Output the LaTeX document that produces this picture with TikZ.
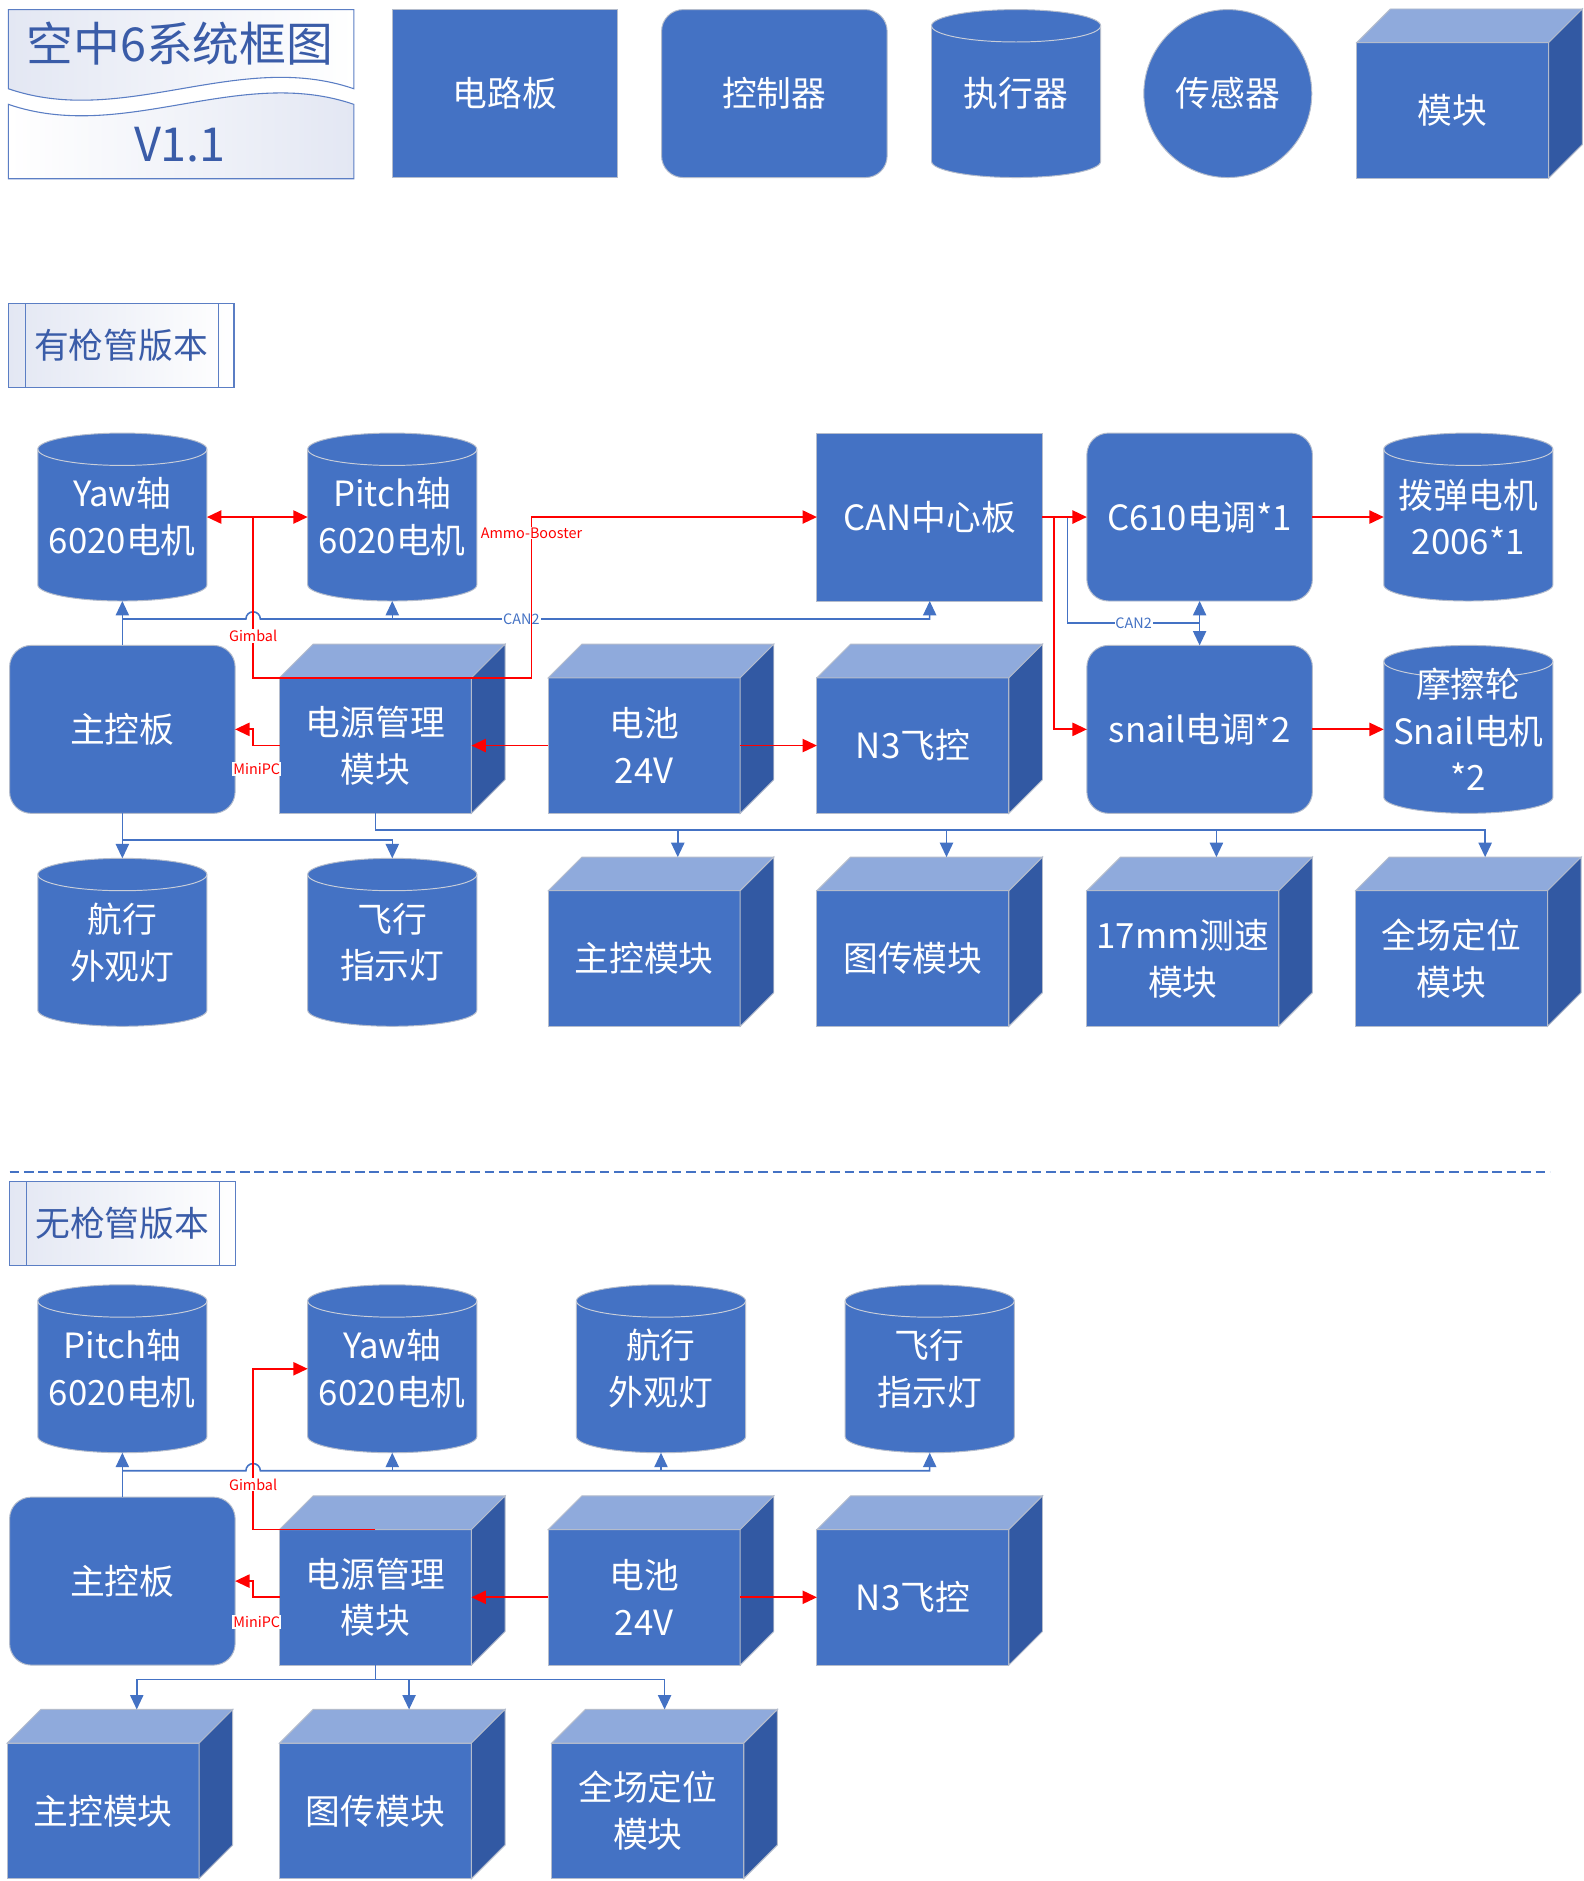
\documentclass[tikz,border=0pt]{standalone}
\usepackage{fontspec}
\setmainfont{Noto Sans CJK SC}
\usetikzlibrary{arrows.meta,backgrounds,calc}

\definecolor{mainblue}{HTML}{4472C4}
\definecolor{topblue}{HTML}{8FAADC}
\definecolor{sideblue}{HTML}{3259A3}
\definecolor{rimgray}{HTML}{B4BCCC}
\definecolor{capgray}{HTML}{C9CED9}
\definecolor{frameblue}{HTML}{5B7EC4}
\definecolor{titleblue}{HTML}{3A5CA8}
\definecolor{lav}{HTML}{E3E7F3}

\begin{document}
\begin{tikzpicture}[x=1pt,y=1pt]

% 样式
\tikzset{
  board/.style={rectangle, fill=mainblue, draw=rimgray, line width=0.8pt,
    minimum width=188pt, minimum height=140pt, inner sep=0pt, outer sep=0pt,
    text=white, align=center, font=\fontsize{29}{39}\selectfont},
  ctrl/.style={board, rounded corners=18pt},
  sensor/.style={board, circle, minimum size=140pt},
  cubefront/.style={board, minimum width=160pt, minimum height=113pt},
  cubetop/.style={fill=topblue, draw=rimgray, line width=0.8pt},
  cubeside/.style={fill=sideblue, draw=rimgray, line width=0.8pt},
  tank/.style={rectangle, minimum width=141pt, minimum height=140pt,
    inner sep=0pt, outer sep=0pt, text=white, align=center,
    font=\fontsize{29}{39}\selectfont},
  tankbody/.style={fill=mainblue, draw=rimgray, line width=0.8pt},
  tankcap/.style={draw=capgray, line width=0.8pt},
  secbox/.style={rectangle, draw=frameblue, line width=1pt, left color=lav,
    right color=white, minimum width=188pt, minimum height=70pt,
    inner sep=0pt, outer sep=0pt, text=titleblue,
    font=\fontsize{29}{39}\selectfont},
  secline/.style={draw=frameblue, line width=1pt},
  titlefill/.style={draw=frameblue, line width=0.9pt},
  titletxt/.style={text=titleblue, inner sep=0pt, font=\fontsize{39}{44}\selectfont},
  tag/.style={fill=white, inner sep=0.8pt, font=\fontsize{12}{12}\selectfont},
  redl/.style={red, line width=1.5pt},
  bluel/.style={mainblue, line width=1.3pt},
  redtip/.style={redl, -{Triangle[length=12pt,width=11pt]}},
  redboth/.style={redl, {Triangle[length=12pt,width=11pt]}-{Triangle[length=12pt,width=11pt]}},
  bluetip/.style={bluel, -{Triangle[length=12pt,width=11pt]}}
}

% 圆柱(执行器)
\def\drumcyl#1#2#3{%
  \node[tank] (#1) at (#2) {#3};
  \begin{scope}[on background layer]
    \path[tankbody] ([yshift=-13.5pt]#1.north west) -- ([yshift=13.5pt]#1.south west)
      arc[start angle=180, end angle=360, x radius=70.5pt, y radius=13.5pt]
      -- ([yshift=-13.5pt]#1.north east)
      arc[start angle=0, end angle=180, x radius=70.5pt, y radius=13.5pt] -- cycle;
    \draw[tankcap] ([yshift=-13.5pt]#1.north west)
      arc[start angle=180, end angle=360, x radius=70.5pt, y radius=13.5pt];
  \end{scope}}

% 立方体(模块)
\def\modcube#1#2#3{%
  \node[cubefront] (#1) at (#2) {#3};
  \path[cubetop] (#1.north west) -- ++(28,28) -- ([shift={(28,28)}]#1.north east)
    -- (#1.north east) -- cycle;
  \path[cubeside] (#1.north east) -- ++(28,28) -- ([shift={(28,28)}]#1.south east)
    -- (#1.south east) -- cycle;}

\begin{scope}[on background layer]
  \fill[white] (0,0) rectangle (1320,-1568);
\end{scope}
\useasboundingbox (0,0) rectangle (1320,-1568);

% ===== 标题与图例 =====
\path[titlefill, left color=lav, right color=white]
  (7,-8) -- (295,-8) -- (295,-74) .. controls (199,-41) and (103,-107) .. (7,-74) -- cycle;
\path[titlefill, left color=white, right color=lav]
  (7,-149) -- (7,-87) .. controls (103,-120) and (199,-54) .. (295,-87) -- (295,-149) -- cycle;
\node[titletxt] (ttl) at (150,-36) {空中6系统框图};
\node[titletxt] (ver) at (150,-121) {V1.1};

\node[board] (leg1) at (421,-78) {电路板};
\node[ctrl] (leg2) at (645.5,-78) {控制器};
\drumcyl{leg3}{847,-78}{执行器}
\node[sensor] (leg4) at (1023.5,-78) {传感器};
\modcube{leg5}{1211,-92}{模块}

% ===== 有枪管版本 =====
\node[secbox] (sec1) at (101,-288) {有枪管版本};
\draw[secline] ([xshift=14pt]sec1.north west) -- ([xshift=14pt]sec1.south west)
  ([xshift=-13pt]sec1.north east) -- ([xshift=-13pt]sec1.south east);

\drumcyl{yaw1}{102,-431}{Yaw轴\\6020电机}
\drumcyl{pit1}{327,-431}{Pitch轴\\6020电机}
\node[board] (can1) at (775,-431) {CAN中心板};
\node[ctrl] (c610) at (1000,-431) {C610电调*1};
\drumcyl{bd1}{1224,-431}{拨弹电机\\2006*1}

\node[ctrl] (mcb1) at (102,-608) {主控板};
\modcube{pwr1}{313,-621.5}{电源管理\\模块}
\modcube{bat1}{537,-621.5}{电池\\24V}
\modcube{n3a}{761,-621.5}{N3飞控}
\node[ctrl] (snail) at (1000,-608) {snail电调*2};
\drumcyl{mc1}{1224,-608}{摩擦轮\\Snail电机\\*2}

\drumcyl{nav1}{102,-785.5}{航行\\外观灯}
\drumcyl{fly1}{327,-785.5}{飞行\\指示灯}
\modcube{zk1}{537,-799}{主控模块}
\modcube{tc1}{761,-799}{图传模块}
\modcube{cs1}{986,-799}{17mm测速\\模块}
\modcube{qc1}{1210,-799}{全场定位\\模块}

% CAN 总线
\coordinate (b1) at ($(yaw1.south)+(0,-15)$);
\coordinate (gim1) at (211,-431);
\coordinate (ab1) at (443,-431);
\draw[bluetip] (mcb1.north) -- (yaw1.south);
\draw[bluetip] (b1) -- ($(gim1|-b1)+(-6,0)$) arc[start angle=180, end angle=0, radius=6pt]
  -- node[tag,pos=0.39]{CAN2} (can1.south|-b1) -- (can1.south);
\draw[bluetip] (pit1.south|-b1) -- (pit1.south);

\coordinate (c2j) at ($(c610.south)!0.5!(snail.north)$);
\draw[bluel] (can1.east) -- ++(21,0) |- node[tag,pos=0.75]{CAN2} (c2j);
\draw[bluetip] (c2j) -- (c610.south);
\draw[bluetip] (c2j) -- (snail.north);

% 灯与模块供电
\draw[bluetip] (mcb1.south) -- (nav1.north);
\draw[bluetip] ($(mcb1.south)+(0,-22)$) -| (fly1.north);
\foreach \m in {zk1,tc1,cs1,qc1} {
  \draw[bluetip] (pwr1.south) -- ++(0,-14) -| ([shift={(28,28)}]\m.north);
}

% 电源线
\draw[redboth] (yaw1.east) -- (pit1.west);
\draw[redl] (pwr1.north) -| node[tag,pos=0.63]{Gimbal} (gim1);
\draw[redtip] (pwr1.north) -| node[tag,pos=0.95]{Ammo-Booster} (ab1) -- (can1.west);
\draw[redtip] (pwr1.west) -- ++(-22,0) |- (mcb1.east);
\node[tag,text=red] (mpc1) at (214,-641) {MiniPC};
\draw[redtip] (bat1.west) -- (pwr1.east);
\draw[redtip] (bat1.east) -- (n3a.west);
\draw[redtip] (can1.east) -- (c610.west);
\draw[redtip] (can1.east) -- ++(9.5,0) |- (snail.west);
\draw[redtip] (c610.east) -- (bd1.west);
\draw[redtip] (snail.east) -- (mc1.west);

% ===== 分隔线 =====
\draw[mainblue, line width=1.5pt, dash pattern=on 8pt off 4pt] (8,-977) -- (1292,-977);

% ===== 无枪管版本 =====
\node[secbox] (sec2) at (102,-1020) {无枪管版本};
\draw[secline] ([xshift=14pt]sec2.north west) -- ([xshift=14pt]sec2.south west)
  ([xshift=-13pt]sec2.north east) -- ([xshift=-13pt]sec2.south east);

\drumcyl{pit2}{102,-1141}{Pitch轴\\6020电机}
\drumcyl{yaw2}{327,-1141}{Yaw轴\\6020电机}
\drumcyl{nav2}{551,-1141}{航行\\外观灯}
\drumcyl{fly2}{775,-1141}{飞行\\指示灯}

\node[ctrl] (mcb2) at (102,-1318) {主控板};
\modcube{pwr2}{313,-1331.5}{电源管理\\模块}
\modcube{bat2}{537,-1331.5}{电池\\24V}
\modcube{n3b}{761,-1331.5}{N3飞控}

\modcube{zk2}{86,-1509.5}{主控模块}
\modcube{tc2}{313,-1509.5}{图传模块}
\modcube{qc2}{540,-1509.5}{全场定位\\模块}

% CAN 总线
\coordinate (b2) at ($(pit2.south)+(0,-15)$);
\coordinate (gim2) at (211,-1141);
\draw[bluetip] (mcb2.north) -- (pit2.south);
\draw[bluetip] (b2) -- ($(gim2|-b2)+(-6,0)$) arc[start angle=180, end angle=0, radius=6pt]
  -- (fly2.south|-b2) -- (fly2.south);
\foreach \m in {yaw2,nav2} {
  \draw[bluetip] (\m.south|-b2) -- (\m.south);
}
\foreach \m/\dx in {zk2/28,tc2/28,qc2/14} {
  \draw[bluetip] (pwr2.south) -- ++(0,-12) -| ([shift={(\dx,28)}]\m.north);
}

% 电源线
\draw[redtip] (pwr2.north) -| node[tag,pos=0.64]{Gimbal} (gim2) -- (yaw2.west);
\draw[redtip] (pwr2.west) -- ++(-22,0) |- (mcb2.east);
\node[tag,text=red] (mpc2) at (214,-1352) {MiniPC};
\draw[redtip] (bat2.west) -- (pwr2.east);
\draw[redtip] (bat2.east) -- (n3b.west);

\end{tikzpicture}
\end{document}
